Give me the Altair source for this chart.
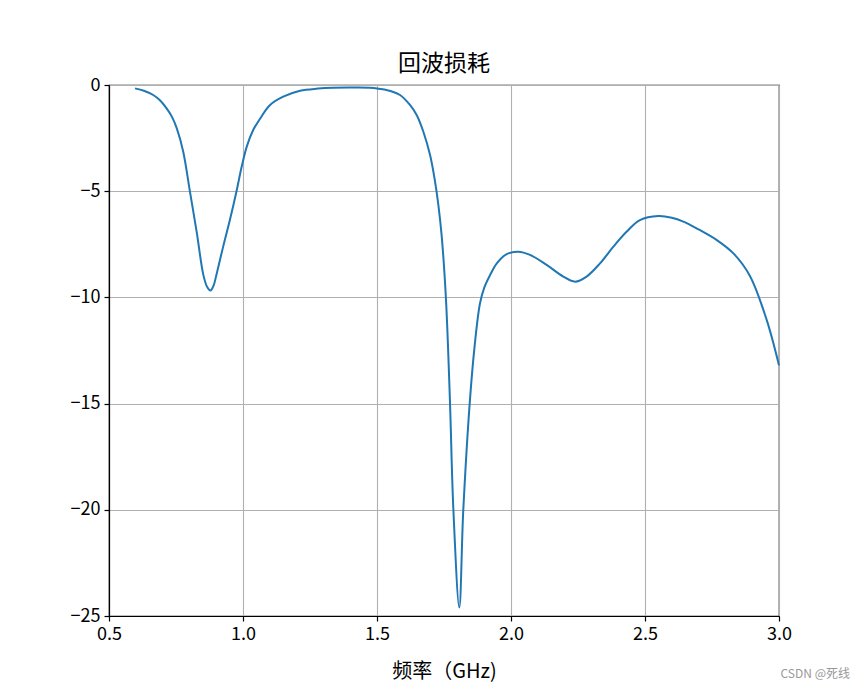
import altair as alt
import pandas as pd

freq = [0.597, 0.63, 0.665, 0.69, 0.715, 0.735, 0.753, 0.777, 0.802, 0.827, 0.852, 0.866, 0.879,
        0.89, 0.902, 0.926, 0.951, 0.976, 0.995, 1.014, 1.038, 1.063, 1.1, 1.15, 1.213, 1.28,
        1.336, 1.42, 1.5, 1.55, 1.586, 1.623, 1.648, 1.673, 1.698, 1.716, 1.729, 1.741,
        1.757, 1.772, 1.785, 1.807, 1.822, 1.847, 1.865, 1.884, 1.9, 1.922, 1.947,
        1.984, 2.027, 2.071, 2.133, 2.195, 2.239, 2.282, 2.332, 2.382, 2.432, 2.481, 2.55,
        2.6, 2.643, 2.7, 2.768, 2.83, 2.892, 2.954, 3.0]
s11 = [-0.16, -0.27, -0.47, -0.72, -1.1, -1.5, -2.04, -3.14, -5.02, -6.9, -8.94, -9.5, -9.68,
       -9.45, -8.87, -7.61, -6.36, -4.99, -3.85, -2.9, -2.12, -1.6, -0.95, -0.55, -0.27, -0.17,
       -0.13, -0.12, -0.16, -0.28, -0.47, -0.94, -1.41, -2.2, -3.3, -4.5, -5.65, -7.06,
       -10.0, -14.8, -20.0, -24.6, -20.0, -14.8, -12.2, -10.3, -9.55, -8.95, -8.4,
       -7.96, -7.85, -8.0, -8.47, -9.02, -9.26, -9.02, -8.4, -7.61, -6.9, -6.36, -6.17,
       -6.25, -6.43, -6.8, -7.3, -7.93, -9.0, -11.06, -13.2]

x_ticks = [0.5, 1.0, 1.5, 2.0, 2.5, 3.0]
y_ticks = [-25, -20, -15, -10, -5, 0]

df = pd.DataFrame({"f": freq, "s11": s11})
wm = pd.DataFrame({"t": ["CSDN @死线"]})

FONT = "Noto Sans CJK SC"

line = alt.Chart(df).mark_line(color="#1f77b4", strokeWidth=2, interpolate="catmull-rom").encode(
    x=alt.X("f:Q", scale=alt.Scale(domain=[0.5, 3.0], nice=False),
            axis=alt.Axis(values=x_ticks, format=".1f", title="频率（GHz)",
                          labelFontSize=18, titleFontSize=20, labelPadding=4,
                          labelFlush=False, titlePadding=18, titleFontWeight="normal")),
    y=alt.Y("s11:Q", scale=alt.Scale(domain=[-25, 0], nice=False),
            axis=alt.Axis(values=y_ticks, format="d", title=None,
                          labelFlush=False, labelFontSize=18, labelPadding=4)),
)

mark = alt.Chart(wm).mark_text(align="right", baseline="middle", fontSize=12,
                               color="#999999", font=FONT).encode(
    x=alt.value(741), y=alt.value(589), text="t:N")

chart = alt.layer(line, mark).properties(
    width=670, height=531,
    title=alt.TitleParams("回波损耗", fontSize=23, fontWeight="normal", offset=0, font=FONT,
                          color="#000000"),
    autosize=alt.AutoSizeParams(type="none"),
    padding={"left": 101, "top": 77, "right": 76, "bottom": 68},
).configure_axis(
    labelFont=FONT, titleFont=FONT, labelColor="#000000", titleColor="#000000",
    domainColor="#000000", domainWidth=1.2, tickColor="#000000", tickSize=5, tickWidth=1.2,
    gridColor="#b0b0b0", gridWidth=1.1, gridOpacity=1,
).configure_view(stroke="#000000", strokeWidth=1.2)

chart.save("out.html", embed_options={"renderer": "svg", "actions": False})
